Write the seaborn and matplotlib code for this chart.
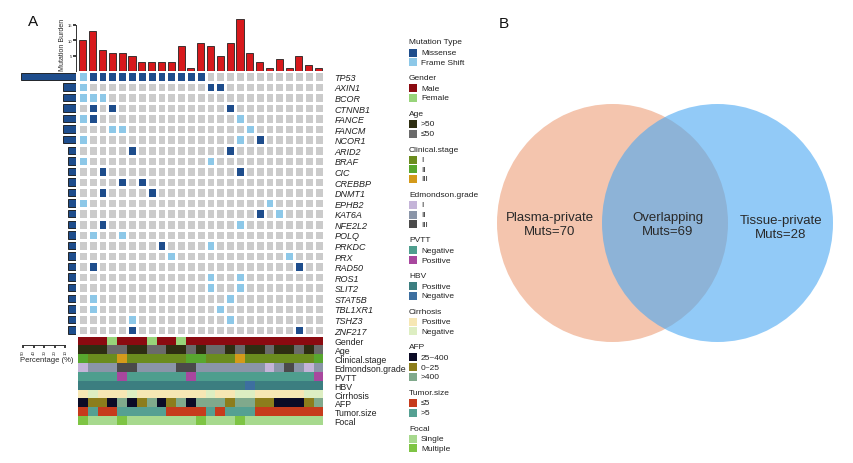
import numpy as np
import matplotlib
matplotlib.use("Agg")
import matplotlib.pyplot as plt
from matplotlib.colors import ListedColormap
from matplotlib.patches import Rectangle, Ellipse
import seaborn as sns

sns.set_theme(style="white")
plt.rcParams['font.family'] = ['Liberation Sans', 'DejaVu Sans']

# ---------------- data ----------------
mutation_burden = [10, 13, 7, 6, 6, 5, 3, 3, 3, 3, 8, 1, 9, 8, 5, 9, 17, 6, 3, 1, 4, 1, 5, 2, 1]
genes = ["TP53", "AXIN1", "BCOR", "CTNNB1", "FANCE", "FANCM", "NCOR1", "ARID2", "BRAF",
         "CIC", "CREBBP", "DNMT1", "EPHB2", "KAT6A", "NFE2L2", "POLQ", "PRKDC", "PRX",
         "RAD50", "ROS1", "SLIT2", "STAT5B", "TBL1XR1", "TSHZ3", "ZNF217"]
missense_cols = [[1, 2, 3, 4, 5, 6, 7, 8, 9, 10, 11, 12], [13, 14], [], [1, 3, 15], [1], [], [18],
                 [5, 15], [], [2, 16], [4, 6], [2, 7], [], [18], [2], [], [8], [], [1, 22],
                 [], [], [], [], [], [5, 22]]
frameshift_cols = [[0], [0], [0, 1, 2], [], [0, 16], [3, 4, 17], [0, 16], [], [0, 13], [], [],
                   [], [0, 19], [20], [16], [1, 4], [13], [9, 21], [], [13, 16], [13, 16],
                   [1, 15], [1, 14], [5, 15], []]

gender = ['Male', 'Male', 'Male', 'Female', 'Male', 'Male', 'Male', 'Female', 'Male', 'Male',
          'Female', 'Male', 'Male', 'Male', 'Male', 'Male', 'Male', 'Male', 'Male', 'Male',
          'Male', 'Male', 'Male', 'Male', 'Male']
age = ['>50', '>50', '>50', '≤50', '≤50', '>50', '>50', '≤50', '≤50', '>50', '>50', '≤50', '>50',
       '≤50', '≤50', '>50', '≤50', '>50', '>50', '≤50', '>50', '>50', '≤50', '>50', '≤50']
clinical_stage = ['II', 'I', 'I', 'I', 'III', 'I', 'I', 'I', 'I', 'I', 'I', 'II', 'II', 'I', 'I',
                  'I', 'III', 'I', 'I', 'I', 'I', 'I', 'I', 'I', 'II']
edmondson_grade = ['I', 'II', 'II', 'II', 'III', 'III', 'II', 'II', 'II', 'II', 'III', 'III', 'II',
                   'II', 'II', 'II', 'II', 'II', 'II', 'I', 'II', 'III', 'II', 'I', 'II']
pvtt = ['Negative', 'Negative', 'Negative', 'Negative', 'Positive', 'Negative', 'Negative',
        'Negative', 'Negative', 'Negative', 'Negative', 'Positive', 'Negative', 'Negative',
        'Negative', 'Negative', 'Negative', 'Negative', 'Negative', 'Negative', 'Negative',
        'Negative', 'Negative', 'Negative', 'Positive']
hbv = ['Positive'] * 17 + ['Negative'] + ['Positive'] * 7
cirrhosis = ['Positive', 'Negative', 'Positive', 'Positive', 'Positive', 'Negative', 'Positive',
             'Positive', 'Positive', 'Positive', 'Positive', 'Positive', 'Positive', 'Negative',
             'Positive', 'Positive', 'Negative', 'Negative', 'Positive', 'Positive', 'Positive',
             'Positive', 'Positive', 'Negative', 'Negative']
afp = ['25~400', '0~25', '0~25', '25~400', '>400', '25~400', '0~25', '>400', '25~400', '0~25',
       '>400', '25~400', '>400', '>400', '>400', '0~25', '>400', '>400', '0~25', '0~25',
       '25~400', '25~400', '25~400', '0~25', '>400']
tumor_size = ['≤5', '>5', '≤5', '≤5', '>5', '>5', '>5', '>5', '>5', '≤5', '≤5', '≤5', '≤5', '>5',
              '≤5', '>5', '>5', '>5', '≤5', '≤5', '≤5', '≤5', '≤5', '≤5', '≤5']
focal = ['Multiple', 'Single', 'Single', 'Single', 'Multiple', 'Single', 'Single', 'Single',
         'Single', 'Single', 'Single', 'Single', 'Multiple', 'Single', 'Single', 'Single',
         'Multiple', 'Single', 'Single', 'Single', 'Single', 'Single', 'Single', 'Single', 'Single']

venn_labels = ["Plasma-private", "Overlapping", "Tissue-private"]
venn_counts = [70, 69, 28]

# ---------------- styles ----------------
C_GREY = "#cbcbcb"
C_MIS = "#1e4d8c"
C_FS = "#8dc8e8"
C_BAR = "#d7191c"

annotations = [
    ("Gender", gender, ["Male", "Female"], ["#8b0a10", "#98d47a"]),
    ("Age", age, [">50", "≤50"], ["#2e2e12", "#6a6a6a"]),
    ("Clinical.stage", clinical_stage, ["I", "II", "III"], ["#6b8c1e", "#58a72e", "#d49a1a"]),
    ("Edmondson.grade", edmondson_grade, ["I", "II", "III"], ["#c4b4d8", "#8a95a8", "#4a4a4a"]),
    ("PVTT", pvtt, ["Negative", "Positive"], ["#4e9e8e", "#a8479e"]),
    ("HBV", hbv, ["Positive", "Negative"], ["#3c7e80", "#3d6fa0"]),
    ("Cirrhosis", cirrhosis, ["Positive", "Negative"], ["#f6e7b4", "#ddeec2"]),
    ("AFP", afp, ["25~400", "0~25", ">400"], ["#0b0b26", "#8c7d1c", "#80a98c"]),
    ("Tumor.size", tumor_size, ["≤5", ">5"], ["#c63b1c", "#55a092"]),
    ("Focal", focal, ["Single", "Multiple"], ["#a7d98e", "#7ec444"]),
]

W, H = 854, 464
fig = plt.figure(figsize=(W / 100, H / 100), dpi=100)
fig.patch.set_facecolor("white")


def add_ax(x0, y0, x1, y1):
    return fig.add_axes([x0 / W, 1 - y1 / H, (x1 - x0) / W, (y1 - y0) / H])


n_s = len(mutation_burden)
n_g = len(genes)

# ---------------- mutation matrix ----------------
mut = np.zeros((n_g, n_s), dtype=int)
for g, (ms, fs) in enumerate(zip(missense_cols, frameshift_cols)):
    mut[g, ms] = 1
    mut[g, fs] = 2

HX0, HX1 = 78, 323.5
HY0, HY1 = 72, 336.3
ax_hm = add_ax(HX0, HY0, HX1, HY1)
sns.heatmap(mut, ax=ax_hm, cmap=ListedColormap([C_GREY, C_MIS, C_FS]), vmin=-0.5, vmax=2.5,
            cbar=False, linewidths=0.8, linecolor="white", xticklabels=False, yticklabels=genes)
ax_hm.tick_params(axis="y", left=False, right=False, labelleft=False, labelright=True,
                  labelsize=6.5, pad=2, rotation=0)
for t in ax_hm.yaxis.get_major_ticks():
    t.label2.set_fontstyle("italic")
    t.label2.set_color("#222222")

# ---------------- annotation rows ----------------
codes = []
all_cols = []
for name, vals, cats, cols in annotations:
    off = len(all_cols)
    codes.append([off + cats.index(v) for v in vals])
    all_cols += cols
codes = np.array(codes)
ax_an = add_ax(HX0, 337.5, HX1, 426)
sns.heatmap(codes, ax=ax_an, cmap=ListedColormap(all_cols), vmin=-0.5, vmax=len(all_cols) - 0.5,
            cbar=False, xticklabels=False, yticklabels=[a[0] for a in annotations])
ax_an.tick_params(axis="y", left=False, right=False, labelleft=False, labelright=True,
                  labelsize=6.3, pad=2, rotation=0)
for t in ax_an.yaxis.get_major_ticks():
    t.label2.set_color("#222222")

# ---------------- top bars (mutation burden) ----------------
ax_top = add_ax(HX0, 18, HX1, 72)
sns.barplot(x=list(range(n_s)), y=mutation_burden, ax=ax_top, color=C_BAR, saturation=1,
            edgecolor="#222222", linewidth=0.6, width=0.72)
ax_top.set_xlim(-0.5, n_s - 0.5)
ax_top.set_ylim(0, 17.6)
ax_top.set_xticks([])
ax_top.set_yticks([5, 10, 15])
ax_top.tick_params(axis="y", labelsize=3, length=2, pad=1, left=True)
for s in ["top", "right", "bottom"]:
    ax_top.spines[s].set_visible(False)
ax_top.spines["left"].set_position(("outward", 1.5))
ax_top.spines["left"].set_bounds(0, 15)
ax_top.spines["left"].set_linewidth(0.7)
ax_top.spines["left"].set_color("#333333")
ax_top.set_ylabel("Mutation Burden", fontsize=5, labelpad=1)
ax_top.set_facecolor("none")

# ---------------- left bars (percentage) ----------------
pct = (mut > 0).sum(axis=1) / n_s * 100
LY1 = 346
ax_left = add_ax(18, HY0, 76, LY1)
sns.barplot(x=pct, y=genes, orient="h", ax=ax_left, color=C_MIS, saturation=1,
            edgecolor="#111111", linewidth=0.6, width=0.7)
row_h = (HY1 - HY0) / n_g
ax_left.set_ylim(n_g - 0.5 + (LY1 - HY1) / row_h, -0.5)
ax_left.set_xlim(55, 0)
ax_left.set_yticks([])
ax_left.set_ylabel("")
ax_left.set_xticks([50, 40, 30, 20, 10])
ax_left.tick_params(axis="x", labelsize=3.2, length=2, pad=1, bottom=True, labelrotation=90)
for s in ["top", "right", "left"]:
    ax_left.spines[s].set_visible(False)
ax_left.spines["bottom"].set_bounds(10, 50)
ax_left.spines["bottom"].set_linewidth(0.7)
ax_left.spines["bottom"].set_color("#333333")
ax_left.set_xlabel("Percentage (%)", fontsize=5.5, labelpad=1.5)
ax_left.set_facecolor("none")

# ---------------- overlay: panel letters + legend ----------------
ax_o = fig.add_axes([0, 0, 1, 1])
ax_o.set_xlim(0, W)
ax_o.set_ylim(H, 0)
ax_o.axis("off")
ax_o.set_zorder(-1)
ax_o.text(28, 22, "A", fontsize=11, va="center", ha="left", color="#111111")
ax_o.text(499, 24, "B", fontsize=11, va="center", ha="left", color="#111111")

legend_groups = [("Mutation Type", ["Missense", "Frame Shift"], [C_MIS, C_FS])] + \
    [(n, c, col) for n, _, c, col in annotations]
y = 43
LX = 409
for title, cats, cols in legend_groups:
    ax_o.text(LX, y, title, fontsize=6, va="center", ha="left", color="#222222")
    y += 10.5
    for c, col in zip(cats, cols):
        ax_o.add_patch(Rectangle((LX, y - 4), 8, 8, facecolor=col, edgecolor="none"))
        ax_o.text(LX + 12, y, c, fontsize=6, va="center", ha="left", color="#222222")
        y += 9.7
    y += 15.5 - 9.7

# ---------------- Venn ----------------
ax_v = add_ax(455, 0, 854, 464)
ax_v.set_xlim(455, 854)
ax_v.set_ylim(464, 0)
ax_v.axis("off")
ax_v.add_patch(Ellipse((612.5, 224), 231, 238, facecolor="#f4c5ae", edgecolor="none"))
ax_v.add_patch(Ellipse((717.5, 224), 231, 238, facecolor="#49a8f3", edgecolor="none", alpha=0.6))
label_x = [550, 668, 781]
label_y = [225, 225, 228]
for lx, ly, lab, cnt in zip(label_x, label_y, venn_labels, venn_counts):
    ax_v.text(lx, ly, f"{lab}\nMuts={cnt}", ha="center", va="center", fontsize=9.5,
              color="#2a2a2a", linespacing=1.15)

fig.savefig("out.png", dpi=100)
